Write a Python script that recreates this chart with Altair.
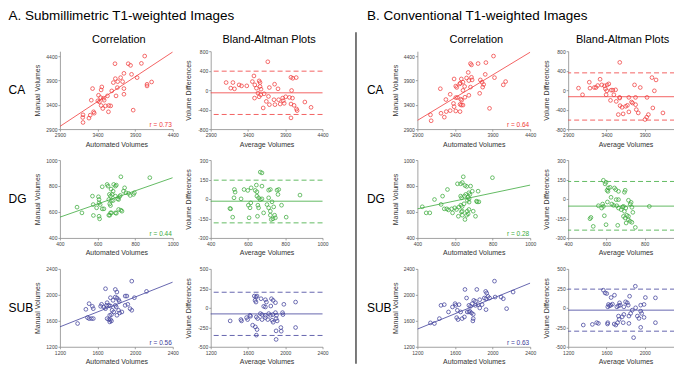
import altair as alt
import pandas as pd

# ------------------------------------------------------------------ data
# A. Submillimetric T1-weighted images
A_CA_AUTO = [4027,3632,3808,3839,3983,3852,3751,3707,3637,3668,3733,3610,3926,4058,4058,4119,3663,3751,3589,3457,3448,3334,3646,3751,3532,3413,3440,3479,3317,3488,3505,3549,3575,3448,3470,3545,3347,3356,3303,3286,3207,3203,3207,3874,3404,3425]
A_CA_MANUAL = [4400,4243,4243,4209,4250,4025,4045,3957,3936,3875,3875,3855,3957,3820,3786,3868,3752,3732,3684,3766,3705,3732,3582,3616,3582,3595,3548,3534,3493,3493,3377,3384,3377,3384,3323,3255,3255,3227,3186,3125,3193,3139,3036,3289,3480,3460]
A_CA_AVG = [3666,3480,3976,4001,4047,3107,3198,3281,3314,3384,3459,3550,3562,3492,3513,3562,3575,3169,3219,3687,3803,3757,3985,3534,3571,3550,3617,3675,3488,3749,3811,3865,3873,3906,3956,3997,3646,3762,3832,3886,3977,4018,4163,4246,4051,4059,3687,3604,3977]
A_CA_DIFF = [583,292,264,244,258,156,156,108,88,88,176,190,156,108,41,75,20,41,27,54,27,122,-7,-61,-95,-136,-75,-129,-163,-197,-197,-163,-217,-136,-149,-163,-231,-298,-285,-271,-285,-312,-244,-353,-386,-420,-298,-366,-570]

A_DG_AUTO = [724,878,651,656,686,695,700,625,744,765,738,796,791,672,683,663,669,678,695,721,716,751,774,573,605,608,660,674,683,707,712,608,614,577,595,625,634,665,669,712,724,730,669,674,695,700,491,517,578,608,611,660,665]
A_DG_MANUAL = [871,864,812,799,812,799,807,794,786,743,760,748,735,776,760,735,722,735,722,727,717,748,727,722,717,696,696,688,688,702,696,670,657,657,632,624,624,662,649,619,614,606,593,593,593,590,637,593,573,567,547,575,575]
A_DG_AVG = [666,675,579,599,527,531,639,648,617,645,675,711,720,756,765,525,563,648,657,666,675,711,761,602,611,503,507,615,653,702,729,738,711,720,780,657,518,606,651,684,720,734,743,725,747,805,879]
A_DG_DIFF = [207,201,73,66,73,53,66,55,86,107,99,68,73,68,73,9,1,22,9,-4,1,9,35,-48,-68,-73,-76,-30,-48,-43,-22,-61,-68,-94,-48,-68,-140,-145,-133,-107,-125,-153,-125,-158,-145,-140,30]

A_SUB_AUTO = [1964,1685,1789,1806,2121,1894,1912,1992,1789,1806,1737,1765,1824,1831,1702,1695,1643,1633,1667,1685,1720,1737,1789,1799,1894,1922,1946,1964,1510,1545,1555,1476,1755,1772,1824,1835,1730,1748,1702,1720,1737,1730,1748,1806,1493,1510,1535,1555,1388,1859]
A_SUB_MANUAL = [2211,2094,2083,2043,2053,1981,1981,1956,1966,1951,1956,1915,1925,1900,1879,1838,1854,1823,1813,1787,1838,1828,1838,1813,1838,1854,1787,1762,1864,1823,1787,1777,1762,1736,1762,1721,1685,1695,1634,1619,1619,1583,1598,1685,1649,1634,1634,1634,1558,1736]
A_SUB_AVG = [1668,1686,1697,1676,1686,1740,1787,1798,1852,1870,1895,1769,1787,1845,1985,2111,1733,1751,1787,1823,1841,1866,1895,1906,1971,1975,1690,1704,1751,1787,1812,1859,1870,1902,1913,1621,1628,1585,1596,1531,1524,1409,1650,1679,1697,1690,1953,1957,1902,1902,2111]
A_SUB_DIFF = [151,138,151,96,74,117,104,74,117,96,66,19,11,23,45,74,-74,-87,-96,-74,-96,-87,-62,-96,-62,-87,-117,-138,-151,-126,-151,-160,-185,-138,-168,-96,-108,-126,-151,-168,-151,-168,-223,-245,-279,-351,-253,-300,-296,-406,-253]

# B. Conventional T1-weighted images
B_CA_AUTO = [3912,3606,3619,3707,3811,3576,3802,3925,3388,3484,3554,3584,3619,3628,3737,3759,3781,3768,3462,3471,3506,3410,3423,3528,3506,3606,3205,3336,3279,3410,3432,3532,3584,3476,3489,3467,3484,3506,3380,3388,3728,3410,3467,3336,3284,3214,3258,3074,3083,3859,4042,4073]
B_CA_MANUAL = [4400,4246,4219,4246,4266,4064,4024,3957,3930,3930,3950,3897,3964,3910,3910,3863,3816,3762,3829,3843,3863,3783,3756,3776,3695,3762,3729,3615,3507,3547,3547,3554,3594,3514,3494,3407,3393,3393,3427,3360,3635,3272,3259,3279,3259,3225,3145,3192,3071,3326,3809,3876]
B_CA_AVG = [3574,3035,3088,3176,3185,3242,3264,3317,3286,3339,3374,3409,3431,3387,3405,3462,3484,3520,3396,3497,3572,3453,3767,3842,3930,3995,4048,4026,3574,3693,3780,3528,3578,3604,3652,3674,3728,3741,3781,3790,3693,3618,3555,3816,4006,3948,3926,3904,4138]
B_CA_DIFF = [570,41,-95,163,41,54,54,224,95,108,88,108,129,27,-14,0,0,7,-95,-95,-149,-210,108,54,-149,258,210,-14,-163,-149,-149,-231,-319,-353,-332,-312,-244,-264,-298,-400,-447,-488,-502,-468,-366,-502,-556,-603,-468]

B_DG_AUTO = [644,799,613,630,639,653,662,683,560,692,723,534,491,526,651,657,630,635,674,679,670,675,666,675,648,631,638,620,599,582,714,718,727,608,556,565,543,426,447,466,587,639,634,674,665,670,662,639,618,653,709,697]
B_DG_MANUAL = [871,864,817,817,827,804,797,799,773,760,760,722,696,658,722,735,722,709,748,735,715,702,688,676,663,652,642,637,632,624,683,678,678,619,624,616,624,640,593,593,593,606,601,619,606,585,575,575,567,542,567,606]
B_DG_AVG = [584,598,593,610,619,642,649,603,608,663,698,694,715,624,651,663,605,580,558,584,575,628,637,654,663,677,684,689,701,694,724,729,733,738,689,698,707,715,715,724,733,703,659,751,589,519,514,531,598,824]
B_DG_DIFF = [144,129,116,85,90,85,72,67,59,59,67,52,-10,13,-5,-5,-23,-39,-52,-57,-70,-39,-49,-52,-70,-82,-62,-57,-70,-95,-39,-26,-64,-103,-134,-147,-126,-134,-160,-172,-180,-185,-203,-219,-129,-142,-152,-211,-198,-57]

B_SUB_AUTO = [2020,1706,1832,1926,1937,1451,1486,1643,1573,1608,1601,1723,1800,1818,1863,1912,1930,1951,1968,2027,2090,2114,2218,2149,1783,1765,1748,1818,1846,1888,1863,1930,1730,1748,1758,1776,1794,1625,1660,1618,1632,1676,1700,1794,1790,1531,1434,1381,1339]
B_SUB_MANUAL = [2211,2083,2083,2053,2027,1838,1849,1849,1813,1838,1864,1951,1915,1900,1925,1951,1940,1976,1951,1966,1966,1940,2043,1787,1864,1823,1838,1838,1849,1849,1798,1772,1736,1736,1746,1721,1700,1762,1736,1649,1619,1634,1660,1634,1598,1736,1634,1558,1568]
B_SUB_AVG = [1902,1568,1586,1603,1649,1684,1842,2007,2112,1621,1646,1663,1709,1726,1744,1614,1632,1737,1800,1818,1782,1828,1870,1905,1958,1993,1958,1968,1993,1940,1923,1853,1835,1782,1765,1726,1733,1681,1698,1716,1614,1611,1775,1835,1516,1498,1453,1358,1884,2112,1958]
B_SUB_DIFF = [277,226,191,183,132,162,149,132,128,43,34,47,13,26,34,13,26,64,77,64,13,34,-30,0,34,43,-43,-72,-123,-136,-106,-72,-106,-85,-115,-106,-149,-208,-221,-191,-191,-208,-191,-200,-200,-191,-213,-221,-383,-191,-251]

# regression line values at the left and right ends of the x range
A_CA_FIT = [2955, 4485]
A_DG_FIT = [560, 864]
A_SUB_FIT = [1507, 2196]
B_CA_FIT = [3078, 4480]
B_DG_FIT = [624, 807]
B_SUB_FIT = [1472, 2181]

# Bland-Altman: mean difference, upper and lower limits of agreement
A_CA_BA = [-55, 390, -500]
A_DG_BA = [-17, 145, -184]
A_SUB_BA = [-78, 200, -355]
B_CA_BA = [-135, 355, -615]
B_DG_BA = [-55, 135, -240]
B_SUB_BA = [-30, 240, -300]

R_VALUES = {"A": ["0.73", "0.44", "0.56"], "B": ["0.64", "0.28", "0.63"]}

STRUCTS = ["CA", "DG", "SUB"]
HEADERS = {"A": "A. Submillimetric T1-weighted Images", "B": "B. Conventional T1-weighted Images"}
COL_TITLES = ["Correlation", "Bland-Altman Plots"]

CORR_DOMAIN = {"CA": ([2900, 4400], [2900, 4500]), "DG": ([400, 1000], [400, 1000]), "SUB": ([1200, 2400], [1200, 2400])}
BA_DOMAIN = {"CA": ([2900, 4400], [-800, 800]), "DG": ([400, 1000], [-300, 300]), "SUB": ([1200, 2400], [-500, 500])}
CORR_TICKS = {"CA": ([2900, 3400, 3900, 4400], [2900, 3400, 3900, 4400]),
              "DG": ([400, 600, 800, 1000], [400, 600, 800, 1000]),
              "SUB": ([1200, 1600, 2000, 2400], [1200, 1600, 2000, 2400])}
BA_TICKS = {"CA": ([2900, 3400, 3900, 4400], [-800, -400, 0, 400, 800]),
            "DG": ([400, 600, 800, 1000], [-300, -150, 0, 150, 300]),
            "SUB": ([1200, 1600, 2000, 2400], [-500, -250, 0, 250, 500])}

COLORS = {"CA": "#f03c3c", "DG": "#3caa3c", "SUB": "#40409a"}

DATA = {
    ("A", "CA"): (A_CA_AUTO, A_CA_MANUAL, A_CA_AVG, A_CA_DIFF, A_CA_FIT, A_CA_BA),
    ("A", "DG"): (A_DG_AUTO, A_DG_MANUAL, A_DG_AVG, A_DG_DIFF, A_DG_FIT, A_DG_BA),
    ("A", "SUB"): (A_SUB_AUTO, A_SUB_MANUAL, A_SUB_AVG, A_SUB_DIFF, A_SUB_FIT, A_SUB_BA),
    ("B", "CA"): (B_CA_AUTO, B_CA_MANUAL, B_CA_AVG, B_CA_DIFF, B_CA_FIT, B_CA_BA),
    ("B", "DG"): (B_DG_AUTO, B_DG_MANUAL, B_DG_AVG, B_DG_DIFF, B_DG_FIT, B_DG_BA),
    ("B", "SUB"): (B_SUB_AUTO, B_SUB_MANUAL, B_SUB_AVG, B_SUB_DIFF, B_SUB_FIT, B_SUB_BA),
}

# ------------------------------------------------------------------ style
FONT = "Liberation Sans"
AXC = "#8a8a8a"
H = 78
W_CORR = 113
W_BA = {"A": 112, "B": 115}
BA_TITLE_SHIFT = {"A": 2.5, "B": -3}
W_GAP = 19
ONE = pd.DataFrame({"a": [0]})
NOVIEW = alt.ViewBackground(stroke="transparent", fill="transparent", strokeWidth=0)


def x_axis(ticks, title, w):
    return alt.Axis(values=ticks, title=title, grid=False, tickSize=2, labelPadding=1.5,
                    labelFontSize=5, titleFontSize=7, labelFont=FONT, titleFont=FONT,
                    labelColor="#444444", titleColor="#333333", domainColor=AXC, tickColor=AXC,
                    domainWidth=0.8, tickWidth=0.8, titleFontWeight="normal",
                    labelFlush=False, labelOverlap=False, labelExpr="'' + datum.value",
                    titleX=w / 2, titleY=15, titleBaseline="middle", titleAlign="center")


def y_axis(ticks, title):
    return alt.Axis(values=ticks, title=title, grid=False, tickSize=2, labelPadding=1,
                    labelFontSize=5, titleFontSize=7, labelFont=FONT, titleFont=FONT,
                    labelColor="#444444", titleColor="#333333", domainColor=AXC, tickColor=AXC,
                    domainWidth=0.8, tickWidth=0.8, titleFontWeight="normal",
                    labelFlush=False, labelOverlap=False, labelExpr="'' + datum.value",
                    titleX=-22, titleY=H / 2, titleAngle=-90, titleBaseline="middle",
                    titleAlign="center")


def txt(text, x, y, size, color="#000000", align="left", baseline="middle"):
    return alt.Chart(ONE).mark_text(text=text, font=FONT, fontSize=size, color=color,
                                    align=align, baseline=baseline).encode(
        x=alt.value(x), y=alt.value(y))


def corr_panel(group, s, row):
    auto, manual, _, _, fit, _ = DATA[(group, s)]
    color = COLORS[s]
    xd, yd = CORR_DOMAIN[s]
    xt, yt = CORR_TICKS[s]
    xs = alt.Scale(domain=xd, nice=False, zero=False)
    ys = alt.Scale(domain=yd, nice=False, zero=False)
    xa = x_axis(xt, "Automated Volumes", W_CORR)
    ya = y_axis(yt, "Manual Volumes")
    pts = alt.Chart(pd.DataFrame({"x": auto, "y": manual})).mark_point(
        shape="circle", filled=False, size=14, strokeWidth=0.75, color=color, opacity=1
    ).encode(x=alt.X("x:Q", scale=xs, axis=xa), y=alt.Y("y:Q", scale=ys, axis=ya))
    line = alt.Chart(pd.DataFrame({"x": xd, "y": fit})).mark_line(
        color=color, strokeWidth=0.8, clip=True
    ).encode(x=alt.X("x:Q", scale=xs, axis=xa), y=alt.Y("y:Q", scale=ys, axis=ya))
    layers = [line, pts,
              txt("r = " + R_VALUES[group][row], W_CORR - 1, H - 4, 6.5, color, align="right"),
              txt(s, -51.5 if group == "A" else -50.5, H / 2, 12)]
    if row == 0:
        layers.append(txt(COL_TITLES[0], W_CORR / 2 + 2.5, -11, 11, align="center"))
        layers.append(txt(HEADERS[group], -51.5 if group == "A" else -50.5, -35, 13.5))
        if group == "B":
            layers.append(alt.Chart(ONE).mark_rule(color="#333333", strokeWidth=1.3).encode(
                x=alt.value(-61.5), y=alt.value(-19), y2=alt.value(313)))
    return alt.layer(*layers).properties(width=W_CORR, height=H, view=NOVIEW)


def ba_panel(group, s, row):
    _, _, avg, diff, _, ba = DATA[(group, s)]
    color = COLORS[s]
    w = W_BA[group]
    xd, yd = BA_DOMAIN[s]
    xt, yt = BA_TICKS[s]
    xs = alt.Scale(domain=xd, nice=False, zero=False)
    ys = alt.Scale(domain=yd, nice=False, zero=False)
    xa = x_axis(xt, "Average Volumes", w)
    ya = y_axis(yt, "Volume Differences")
    pts = alt.Chart(pd.DataFrame({"x": avg, "y": diff})).mark_point(
        shape="circle", filled=False, size=14, strokeWidth=0.75, color=color, opacity=1
    ).encode(x=alt.X("x:Q", scale=xs, axis=xa), y=alt.Y("y:Q", scale=ys, axis=ya))
    mean = alt.Chart(pd.DataFrame({"y": ba[:1]})).mark_rule(color=color, strokeWidth=0.8).encode(
        y=alt.Y("y:Q", scale=ys, axis=ya))
    loa = alt.Chart(pd.DataFrame({"y": ba[1:]})).mark_rule(
        color=color, strokeWidth=0.8, strokeDash=[5, 3]).encode(y=alt.Y("y:Q", scale=ys, axis=ya))
    layers = [mean, loa, pts]
    if row == 0:
        layers.append(txt(COL_TITLES[1], w / 2 + BA_TITLE_SHIFT[group], -11, 11, align="center"))
    return alt.layer(*layers).properties(width=w, height=H, view=NOVIEW)


def spacer():
    return alt.Chart(ONE).mark_text(text=" ", opacity=0).encode(
        x=alt.value(0), y=alt.value(0)).properties(width=W_GAP, height=H, view=NOVIEW)


cells = []
for i, s in enumerate(STRUCTS):
    cells += [corr_panel("A", s, i), ba_panel("A", s, i), spacer(),
              corr_panel("B", s, i), ba_panel("B", s, i)]

# the right-hand panel runs past the edge of the page, as in the reference:
# a negative right padding keeps the drawing at its natural scale and crops it
chart = alt.concat(*cells, columns=5, spacing={"row": 31, "column": 38},
                   bounds="flush", align="each").properties(
    padding={"left": 0, "top": 1, "right": -15, "bottom": 0},
    background="#ffffff",
).configure_view(strokeWidth=0, stroke="transparent").configure(font=FONT)

chart.save("out.html", embed_options={"renderer": "svg", "actions": False})
